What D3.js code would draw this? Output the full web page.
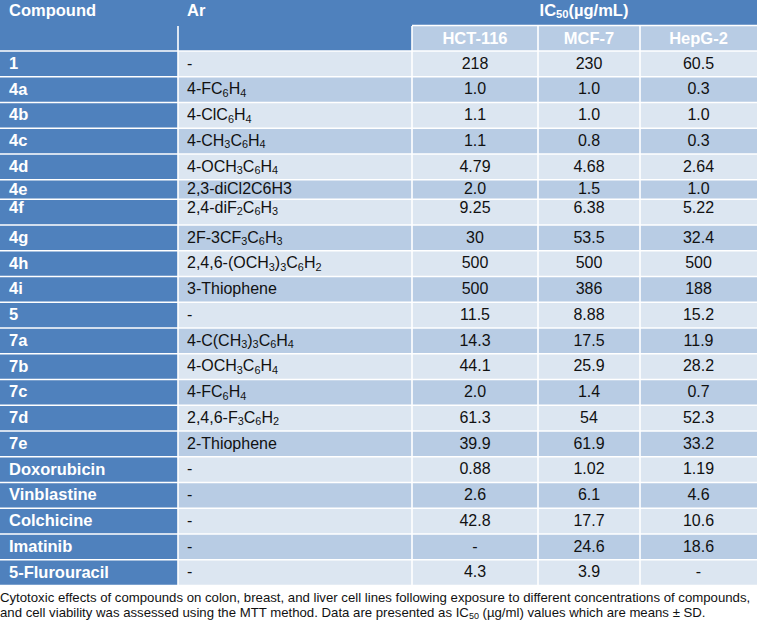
<html>
<script src='https://d3js.org/d3.v7.min.js'></script>
<style>
  body { margin: 0; background: #fff; }
  text { font-family: 'Liberation Sans', Arial, sans-serif; }
</style>
<body>
<svg width=757 height=628></svg>
<script>
var compounds = ['1','4a','4b','4c','4d','4e','4f','4g','4h','4i','5','7a','7b','7c','7d','7e',
                 'Doxorubicin','Vinblastine','Colchicine','Imatinib','5-Flurouracil'];
// "_" marks the following digit as subscript
var ar = ['-','4-FC_6H_4','4-ClC_6H_4','4-CH_3C_6H_4','4-OCH_3C_6H_4','2,3-diCl2C6H3','2,4-diF_2C_6H_3',
          '2F-3CF_3C_6H_3','2,4,6-(OCH_3)_3C_6H_2','3-Thiophene','-','4-C(CH_3)_3C_6H_4','4-OCH_3C_6H_4',
          '4-FC_6H_4','2,4,6-F_3C_6H_2','2-Thiophene','-','-','-','-','-'];
var cellLines = ['HCT-116','MCF-7','HepG-2'];
var hct116 = ['218','1.0','1.1','1.1','4.79','2.0','9.25','30','500','500','11.5','14.3','44.1','2.0','61.3','39.9','0.88','2.6','42.8','-','4.3'];
var mcf7   = ['230','1.0','1.0','0.8','4.68','1.5','6.38','53.5','500','386','8.88','17.5','25.9','1.4','54','61.9','1.02','6.1','17.7','24.6','3.9'];
var hepg2  = ['60.5','0.3','1.0','0.3','2.64','1.0','5.22','32.4','500','188','15.2','11.9','28.2','0.7','52.3','33.2','1.19','4.6','10.6','18.6','-'];
var caption = ['Cytotoxic effects of compounds on colon, breast, and liver cell lines following exposure to different concentrations of compounds,',
               'and cell viability was assessed using the MTT method. Data are presented as IC_5_0 (µg/ml) values which are means ± SD.'];

var dark = '#4f81bd', light = '#dce6f1', mid = '#b8cce4', ink = '#111';
var svg = d3.select('svg');

// column layout
var colKeys = ['compound','ar','hct','mcf','hep'];
var colEdge = d3.scaleOrdinal().domain(colKeys).range([0,178,412,538,640]);
var colWidth = d3.scaleOrdinal().domain(colKeys).range([178,234,126,102,117]);

// row layout (row 4e is squeezed in the original, 4f text sits high)
var headerH = 51, rowH = 25.75;
var rowHeight = compounds.map(c => c === '4e' ? 19.5 : rowH);
var baseOff = {'4e': 14.6, '4f': 13.6};
var rowTop = [];
rowHeight.reduce((acc, h, i) => { rowTop[i] = acc; return acc + h; }, headerH);
var y = d3.scaleOrdinal().domain(compounds).range(rowTop);
var h = d3.scaleOrdinal().domain(compounds).range(rowHeight);
var base = c => baseOff[c] !== undefined ? baseOff[c] : 17.5;

function addRich(sel, str, size) {
  var parts = [], re = /_(\d)/g, last = 0, m;
  while ((m = re.exec(str)) !== null) {
    if (m.index > last) parts.push({t: str.slice(last, m.index), sub: false});
    parts.push({t: m[1], sub: true});
    last = re.lastIndex;
  }
  if (last < str.length) parts.push({t: str.slice(last), sub: false});
  var merged = [];
  parts.forEach(p => {
    var prev = merged[merged.length-1];
    if (prev && prev.sub === p.sub) prev.t += p.t; else merged.push({t: p.t, sub: p.sub});
  });
  var prevSub = false, dd = size * 0.16;
  merged.forEach(p => {
    var ts = sel.append('tspan').text(p.t);
    if (p.sub) { ts.attr('font-size', size * 0.68).attr('dy', prevSub ? 0 : dd); prevSub = true; }
    else { if (prevSub) ts.attr('dy', -dd); prevSub = false; }
  });
}

var rows = compounds.map((c, i) => ({c: c, ar: ar[i], v: [hct116[i], mcf7[i], hepg2[i]], i: i}));
var subCols = ['hct','mcf','hep'];
var tableBottom = rowTop[rowTop.length - 1] + rowHeight[rowHeight.length - 1];

// backgrounds
var bg = svg.append('g');
bg.append('rect').attr('x', 0).attr('y', 0).attr('width', 757).attr('height', headerH).attr('fill', dark);
bg.selectAll('rect.sub').data(subCols).join('rect').attr('class', 'sub')
  .attr('x', d => colEdge(d)).attr('y', 26).attr('width', d => colWidth(d)).attr('height', 25)
  .attr('fill', mid);
bg.selectAll('rect.lab').data(rows).join('rect').attr('class', 'lab')
  .attr('x', 0).attr('y', d => y(d.c)).attr('width', colWidth('compound')).attr('height', d => h(d.c))
  .attr('fill', dark);
bg.selectAll('rect.band').data(rows).join('rect').attr('class', 'band')
  .attr('x', colEdge('ar')).attr('y', d => y(d.c)).attr('width', 757 - colEdge('ar')).attr('height', d => h(d.c))
  .attr('fill', d => d.i % 2 === 0 ? light : mid);

// white grid lines
var lines = svg.append('g').attr('stroke', '#fff').attr('stroke-width', 1.6);
lines.selectAll('line.h').data(rows).join('line').attr('class', 'h')
  .attr('x1', 0).attr('x2', 757).attr('y1', d => y(d.c)).attr('y2', d => y(d.c));
lines.append('line').attr('x1', colEdge('hct')).attr('x2', 757).attr('y1', 25.5).attr('y2', 25.5);
lines.selectAll('line.v').data(colKeys.slice(1)).join('line').attr('class', 'v')
  .attr('x1', d => colEdge(d)).attr('x2', d => colEdge(d))
  .attr('y1', 26).attr('y2', tableBottom);
lines.append('line').attr('x1', 0).attr('x2', 757).attr('y1', tableBottom).attr('y2', tableBottom);

// header text
var hd = svg.append('g').attr('fill', '#fff').attr('font-weight', 'bold').attr('font-size', 16.5);
hd.append('text').attr('x', 9).attr('y', 15.5).text('Compound');
hd.append('text').attr('x', colEdge('ar') + 9).attr('y', 15.5).text('Ar');
var ic = hd.append('text').attr('x', 584).attr('y', 15.5).attr('text-anchor', 'middle');
addRich(ic, 'IC_5_0(µg/mL)', 16.5);
hd.selectAll('text.sub').data(cellLines).join('text').attr('class', 'sub')
  .attr('x', (d, i) => colEdge(subCols[i]) + colWidth(subCols[i]) / 2).attr('y', 43.5)
  .attr('text-anchor', 'middle').text(d => d);

// body text
var row = svg.append('g').selectAll('g.row').data(rows).join('g').attr('class', 'row')
  .attr('transform', d => 'translate(0,' + y(d.c) + ')');

row.append('text').attr('x', 9).attr('y', d => base(d.c) + 0.3)
  .attr('fill', '#fff').attr('font-weight', 'bold').attr('font-size', 16.5)
  .text(d => d.c);

row.append('text').attr('x', colEdge('ar') + 9).attr('y', d => base(d.c))
  .attr('fill', ink).attr('font-size', 16)
  .each(function(d) { addRich(d3.select(this), d.ar, 16); });

subCols.forEach((k, j) => {
  row.append('text').attr('x', colEdge(k) + colWidth(k) / 2).attr('y', d => base(d.c))
    .attr('text-anchor', 'middle').attr('fill', ink).attr('font-size', 16)
    .text(d => d.v[j]);
});

// caption
svg.selectAll('text.cap').data(caption).join('text').attr('class', 'cap')
  .attr('x', 0).attr('y', (d, i) => tableBottom + 16 + i * 15.5)
  .attr('fill', ink).attr('font-size', 13.2)
  .each(function(d) { addRich(d3.select(this), d, 13.2); });
</script>
</body>
</html>
